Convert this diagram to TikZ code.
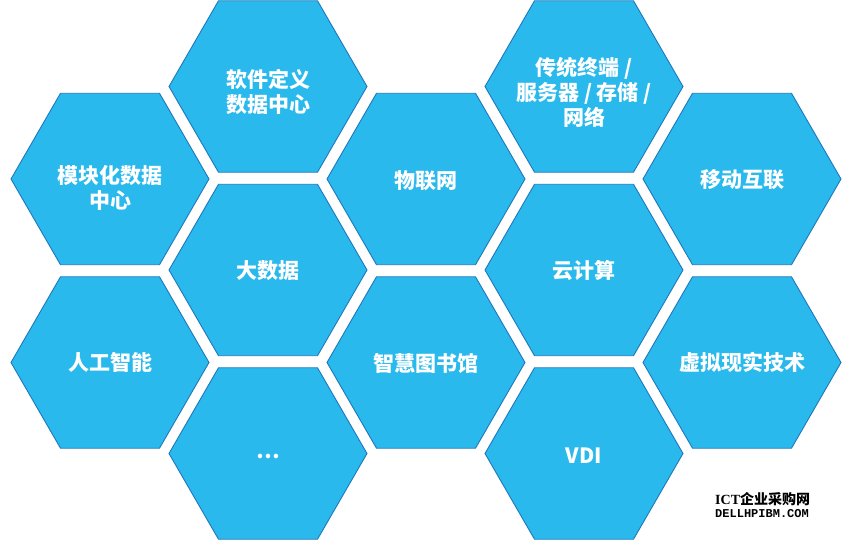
\documentclass[tikz,border=0pt]{standalone}
\usepackage{fontspec}
\usetikzlibrary{shapes.geometric}
\newfontfamily\cjk{Noto Sans CJK SC}
\newfontfamily\wmmono{Liberation Mono}
\newfontfamily\wmserif{Liberation Serif}
\definecolor{hexfill}{HTML}{29B9EC}
\definecolor{hexline}{HTML}{1F78BE}
\tikzset{
  hexbox/.style={regular polygon, regular polygon sides=6, minimum size=198pt,
    inner sep=0pt, outer sep=0pt, fill=hexfill, draw=hexline, line width=0.9pt},
  hextext/.style={text=white, align=center, font=\cjk\bfseries\fontsize{21}{25}\selectfont, inner sep=0pt}
}
\begin{document}
\begin{tikzpicture}[x=1pt,y=-1pt]
\useasboundingbox (0,0) rectangle (849,553);
\node[hexbox] (h1) at (110,179) {};
\node[hexbox] (h2) at (110,362.5) {};
\node[hexbox] (h3) at (268,86.5) {};
\node[hexbox] (h4) at (268,270) {};
\node[hexbox] (h5) at (268,453.5) {};
\node[hexbox] (h6) at (426,179) {};
\node[hexbox] (h7) at (426,362.5) {};
\node[hexbox] (h8) at (584,86.5) {};
\node[hexbox] (h9) at (584,270) {};
\node[hexbox] (h10) at (584,453.5) {};
\node[hexbox] (h11) at (742,179) {};
\node[hexbox] (h12) at (742,362.5) {};

\node[hextext] (t1) at (110,188) {模块化数据\\中心};
\node[hextext] (t2) at (110,362) {人工智能};
\node[hextext] (t3) at (268,92) {软件定义\\数据中心};
\node[hextext] (t4) at (268,271) {大数据};
\node[hextext] (t5) at (268,456) {…};
\node[hextext] (t6) at (426,181) {物联网};
\node[hextext] (t7) at (426,363) {智慧图书馆};
\node[hextext] (t8) at (584,92) {传统终端 /\\服务器 / 存储 /\\网络};
\node[hextext] (t9) at (584,271) {云计算};
\node[hextext] (t10) at (584,456) {VDI};
\node[hextext] (t11) at (742,180) {移动互联};
\node[hextext] (t12) at (742,362) {虚拟现实技术};

\node[anchor=west, inner sep=0pt, font=\bfseries\fontsize{14}{14}\selectfont] (w1) at (715,499) {{\wmserif ICT}{\cjk 企业采购网}};
\node[anchor=west, inner sep=0pt, font=\wmmono\bfseries\fontsize{12}{12}\selectfont] (w2) at (715,514) {DELLHPIBM.COM};
\end{tikzpicture}
\end{document}
